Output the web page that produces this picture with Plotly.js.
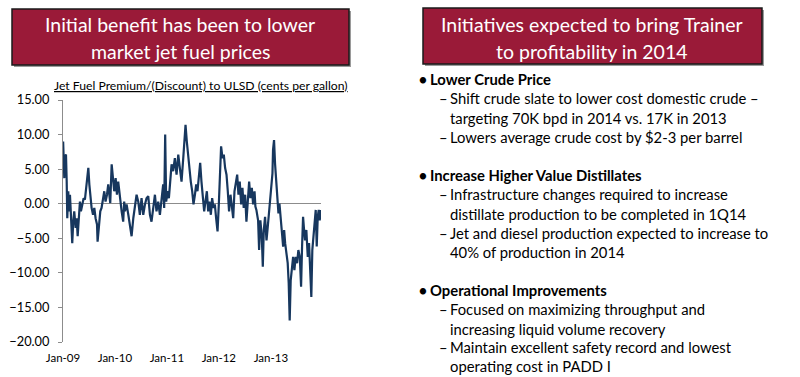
<!DOCTYPE html>
<html>
<head>
<meta charset="utf-8">
<script src="https://cdn.plot.ly/plotly-3.0.1.min.js"></script>
<style>html,body{margin:0;padding:0;background:#fff;}#chart{width:800px;height:377px;}</style>
</head>
<body>
<div id="chart"></div>
<script>
// ---- data ----
const dates = [
"2009-01-02","2009-01-05","2009-01-10","2009-01-15","2009-01-22","2009-01-27","2009-01-31","2009-02-07","2009-02-12","2009-02-19",
"2009-02-26","2009-03-07","2009-03-14","2009-03-21","2009-03-31","2009-04-07","2009-04-14","2009-04-23","2009-04-30","2009-05-07",
"2009-05-17","2009-05-26","2009-06-04","2009-06-14","2009-06-21","2009-06-28","2009-07-05","2009-07-12","2009-07-21","2009-07-31",
"2009-08-09","2009-08-18","2009-08-28","2009-09-01","2009-09-11","2009-09-20","2009-09-29","2009-10-09","2009-10-18","2009-10-27",
"2009-11-06","2009-11-15","2009-11-22","2009-11-29","2009-12-09","2009-12-18","2009-12-27","2010-01-06","2010-01-15","2010-01-24",
"2010-02-05","2010-02-17","2010-02-28","2010-03-07","2010-03-12","2010-03-24","2010-04-05","2010-04-16","2010-04-28","2010-05-10",
"2010-05-21","2010-06-02","2010-06-14","2010-06-25","2010-07-07","2010-07-19","2010-07-31","2010-08-11","2010-08-23","2010-09-04",
"2010-09-15","2010-09-27","2010-10-09","2010-10-20","2010-11-01","2010-11-13","2010-11-25","2010-12-06","2010-12-13","2010-12-20",
"2010-12-27","2011-01-06","2011-01-15","2011-01-22","2011-02-03","2011-02-14","2011-02-26","2011-03-10","2011-03-22","2011-04-02",
"2011-04-14","2011-04-26","2011-05-05","2011-05-12","2011-05-21","2011-05-31","2011-06-09","2011-06-18","2011-06-28","2011-07-07",
"2011-07-17","2011-07-26","2011-08-04","2011-08-14","2011-08-23","2011-09-01","2011-09-11","2011-09-20","2011-09-29","2011-10-09",
"2011-10-18","2011-10-27","2011-11-06","2011-11-15","2011-11-25","2011-12-04","2011-12-13","2011-12-23","2012-01-01","2012-01-10",
"2012-01-17","2012-01-27","2012-02-05","2012-02-14","2012-02-24","2012-03-04","2012-03-13","2012-03-23","2012-04-01","2012-04-11",
"2012-04-20","2012-04-29","2012-05-09","2012-05-18","2012-05-27","2012-06-06","2012-06-15","2012-06-24","2012-07-04","2012-07-13",
"2012-07-23","2012-08-01","2012-08-10","2012-08-20","2012-08-29","2012-09-08","2012-09-14","2012-09-21","2012-10-03","2012-10-10",
"2012-10-19","2012-10-29","2012-11-05","2012-11-12","2012-11-21","2012-12-01","2012-12-10","2012-12-19","2012-12-29","2013-01-05",
"2013-01-12","2013-01-16","2013-01-23","2013-01-30","2013-02-06","2013-02-13","2013-02-23","2013-03-02","2013-03-09","2013-03-18",
"2013-03-28","2013-04-04","2013-04-11","2013-04-20","2013-04-29","2013-05-06","2013-05-13","2013-05-20","2013-05-27","2013-06-06",
"2013-06-15","2013-06-24","2013-07-04","2013-07-13","2013-07-23","2013-08-01","2013-08-08","2013-08-15","2013-08-22","2013-08-29",
"2013-09-07","2013-09-17","2013-09-26","2013-10-05","2013-10-12","2013-10-19","2013-10-26","2013-11-02","2013-11-12","2013-11-19",
"2013-11-26","2013-12-03","2013-12-10","2013-12-17"
];
const premium = [
9.0,6.6,3.7,6.9,7.1,3.2,-2.1,1.8,-1.1,1.3,
-2.1,-5.7,-2.6,-1.1,-3.5,-2.1,-4.7,-1.6,0.3,-1.1,
0.1,0.8,0.6,2.5,3.2,5.2,2.8,1.3,-0.6,-1.6,
-0.6,-2.1,-3.0,-5.5,-2.6,-1.1,-0.6,0.8,1.8,0.3,
1.3,2.8,1.3,0.1,5.7,3.2,1.8,3.7,1.3,3.2,
0.8,-1.1,-2.6,0.3,-1.1,-0.1,-1.6,-3.0,-4.7,-2.1,
-0.6,1.3,0.3,-1.6,0.8,-1.6,-0.1,0.8,1.1,-1.6,
-2.6,-0.1,1.3,-1.1,0.3,-1.6,0.8,2.8,-0.6,10.0,
0.3,1.8,0.8,3.2,5.7,4.7,6.6,4.2,7.1,5.2,
3.2,6.6,9.5,11.4,9.0,6.6,4.7,3.2,1.8,-0.1,
1.3,2.8,1.8,3.7,5.9,3.2,0.8,-1.1,0.3,1.8,
-1.1,0.3,-1.6,0.8,-0.6,-0.1,-2.1,-4.0,-0.1,5.7,
8.3,6.6,7.1,5.2,4.2,1.8,-1.1,1.3,-0.1,-2.1,
1.8,3.2,4.2,1.3,3.2,-0.1,2.3,-0.6,1.3,-2.6,
1.3,3.2,0.8,2.3,-0.1,1.8,-0.4,-0.9,-2.4,-6.7,
-2.4,-4.8,-9.1,-3.8,-1.9,-5.3,-3.3,-0.9,2.0,2.9,
4.4,7.8,9.2,5.8,3.4,1.0,-1.4,0.0,-2.4,-3.8,
-6.2,-3.8,-5.7,-7.6,-8.6,-11.5,-16.9,-11.1,-9.1,-7.7,
-9.6,-7.7,-8.6,-6.7,-7.7,-12.0,-6.2,-1.9,-3.8,-5.3,
-3.8,-7.7,-5.7,-9.6,-13.5,-6.7,-4.8,-2.4,-0.9,-6.2,
-1.9,-0.9,-2.4,-0.9
];
const xTickVals = ["2009-01-01","2010-01-01","2011-01-01","2012-01-01","2013-01-01"];
const xTickText = ["Jan-09","Jan-10","Jan-11","Jan-12","Jan-13"];
const yTickVals = [15,10,5,0,-5,-10,-15,-20];

const chartTitle = "Jet Fuel Premium/(Discount) to ULSD (cents per gallon)";
const leftHeader = ["Initial benefit has been to lower", "market jet fuel prices"];
const rightHeader = ["Initiatives expected to bring Trainer", "to profitability in 2014"];
const bullets = [
  {lvl:1, t:"Lower Crude Price", y:79},
  {lvl:2, t:"Shift crude slate to lower cost domestic crude –", y:98},
  {lvl:3, t:"targeting 70K bpd in 2014 vs. 17K in 2013", y:117.5},
  {lvl:2, t:"Lowers average crude cost by $2-3 per barrel", y:137},
  {lvl:1, t:"Increase Higher Value Distillates", y:175},
  {lvl:2, t:"Infrastructure changes required to increase", y:194.5},
  {lvl:3, t:"distillate production to be completed in 1Q14", y:213.5},
  {lvl:2, t:"Jet and diesel production expected to increase to", y:232.5},
  {lvl:3, t:"40% of production in 2014", y:252},
  {lvl:1, t:"Operational Improvements", y:290},
  {lvl:2, t:"Focused on maximizing throughput and", y:309},
  {lvl:3, t:"increasing liquid volume recovery", y:328.5},
  {lvl:2, t:"Maintain excellent safety record and lowest", y:347},
  {lvl:3, t:"operating cost in PADD I", y:366}
];

// ---- helpers (pixel -> paper) ----
const W = 800, H = 377;
const px = x => x / W;
const py = y => 1 - y / H;
const FONT = "Lato, 'Open Sans', sans-serif";

const shapes = [];
const annotations = [];

function headerBox(x0, y0, x1, y1, lines, cx) {
  shapes.push({type:"rect", xref:"paper", yref:"paper", x0:px(x0+2), x1:px(x1+2), y0:py(y1+2), y1:py(y0+2),
    fillcolor:"#9a9a9a", line:{width:0}, layer:"above"});
  shapes.push({type:"rect", xref:"paper", yref:"paper", x0:px(x0), x1:px(x1), y0:py(y1), y1:py(y0),
    fillcolor:"#9A1A38", line:{color:"#1a1a1a", width:1.5}, layer:"above"});
  lines.forEach((t, i) => {
    annotations.push({xref:"paper", yref:"paper", x:px(cx), y:py(25 + i*26), text:t, showarrow:false,
      xanchor:"center", yanchor:"middle", font:{family:FONT, size:19.5, color:"#ffffff"}});
  });
}
headerBox(12, 9, 349, 65, leftHeader, 180);
headerBox(423, 8, 762, 64, rightHeader, 592);

annotations.push({xref:"paper", yref:"paper", x:px(201), y:py(85.5), text:"<u>"+chartTitle+"</u>", showarrow:false,
  xanchor:"center", yanchor:"middle", font:{family:FONT, size:12.2, color:"#000"}});

const BF = 14.8;
bullets.forEach(b => {
  if (b.lvl === 1) {
    annotations.push({xref:"paper", yref:"paper", x:px(416), y:py(b.y), text:"•", showarrow:false,
      xanchor:"left", yanchor:"middle", font:{family:FONT, size:17, color:"#000"}});
    annotations.push({xref:"paper", yref:"paper", x:px(428), y:py(b.y), text:"<b>"+b.t+"</b>", showarrow:false,
      xanchor:"left", yanchor:"middle", font:{family:FONT, size:BF, color:"#000"}});
  } else if (b.lvl === 2) {
    annotations.push({xref:"paper", yref:"paper", x:px(437), y:py(b.y), text:"–", showarrow:false,
      xanchor:"left", yanchor:"middle", font:{family:FONT, size:BF, color:"#000"}});
    annotations.push({xref:"paper", yref:"paper", x:px(448), y:py(b.y), text:b.t, showarrow:false,
      xanchor:"left", yanchor:"middle", font:{family:FONT, size:BF, color:"#000"}});
  } else {
    annotations.push({xref:"paper", yref:"paper", x:px(448), y:py(b.y), text:b.t, showarrow:false,
      xanchor:"left", yanchor:"middle", font:{family:FONT, size:BF, color:"#000"}});
  }
});

const trace = {
  x: dates, y: premium, type:"scatter", mode:"lines",
  line:{color:"#17375E", width:2.2}, hoverinfo:"skip"
};

const layout = {
  width: W, height: H,
  margin:{l:0, r:0, t:0, b:0},
  paper_bgcolor:"#ffffff", plot_bgcolor:"#ffffff",
  showlegend:false,
  font:{family:FONT, color:"#000"},
  xaxis:{
    type:"date", domain:[px(63), px(321)], range:["2009-01-01","2013-12-19"],
    tickvals:xTickVals, ticktext:xTickText, tickfont:{size:11.5, color:"#000"},
    showgrid:false, showline:false, zeroline:false, ticks:"", ticklabelstandoff:7
  },
  yaxis:{
    domain:[py(342), py(100)], range:[-20, 15],
    tickvals:yTickVals, tickformat:".2f", tickfont:{size:12.8, color:"#000"},
    showgrid:false, showline:true, linecolor:"#8c8c8c", linewidth:1,
    ticks:"outside", ticklen:4, tickcolor:"#8c8c8c",
    zeroline:true, zerolinecolor:"#8c8c8c", zerolinewidth:1, ticklabelstandoff:6
  },
  shapes: shapes,
  annotations: annotations
};

Plotly.newPlot("chart", [trace], layout, {staticPlot:true, displayModeBar:false});
</script>
</body>
</html>
